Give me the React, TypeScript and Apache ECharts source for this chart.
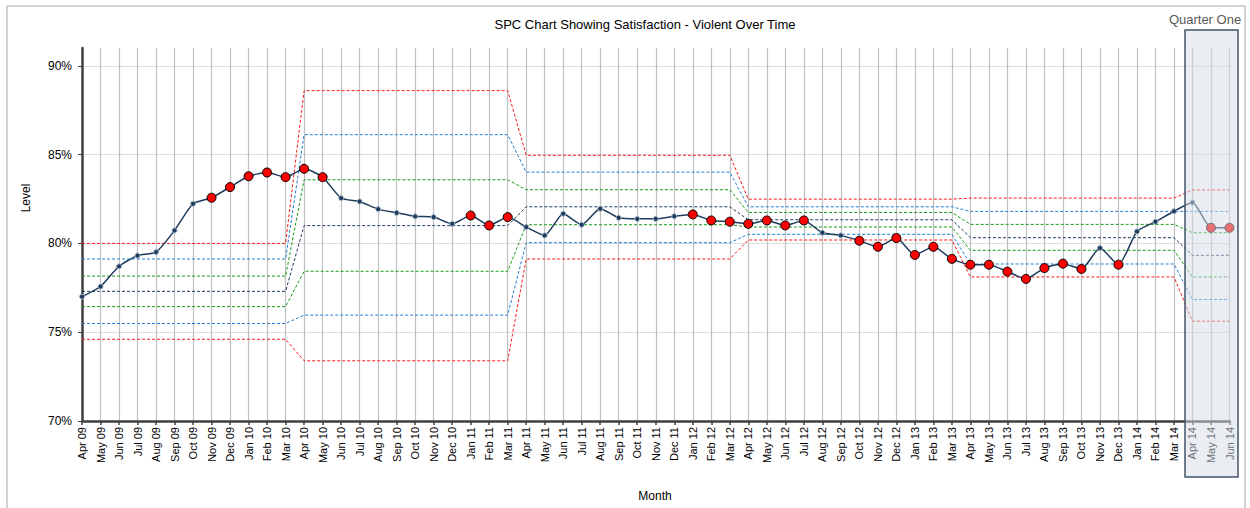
import React, { useEffect, useRef } from "react";
import * as echarts from "echarts";

const months = [
  "Apr 09", "May 09", "Jun 09", "Jul 09", "Aug 09", "Sep 09", "Oct 09", "Nov 09", "Dec 09", "Jan 10", "Feb 10", "Mar 10",
  "Apr 10", "May 10", "Jun 10", "Jul 10", "Aug 10", "Sep 10", "Oct 10", "Nov 10", "Dec 10", "Jan 11", "Feb 11", "Mar 11",
  "Apr 11", "May 11", "Jun 11", "Jul 11", "Aug 11", "Sep 11", "Oct 11", "Nov 11", "Dec 11", "Jan 12", "Feb 12", "Mar 12",
  "Apr 12", "May 12", "Jun 12", "Jul 12", "Aug 12", "Sep 12", "Oct 12", "Nov 12", "Dec 12", "Jan 13", "Feb 13", "Mar 13",
  "Apr 13", "May 13", "Jun 13", "Jul 13", "Aug 13", "Sep 13", "Oct 13", "Nov 13", "Dec 13", "Jan 14", "Feb 14", "Mar 14",
  "Apr 14", "May 14", "Jun 14",
];

const satisfaction = [
  77.0, 77.57, 78.71, 79.31, 79.51, 80.73, 82.23, 82.57, 83.17, 83.78, 83.99, 83.73,
  84.2, 83.73, 82.55, 82.36, 81.93, 81.72, 81.52, 81.48, 81.1, 81.57, 81.01, 81.48,
  80.92, 80.45, 81.67, 81.05, 81.95, 81.44, 81.38, 81.38, 81.53, 81.63, 81.29, 81.22,
  81.1, 81.29, 81.01, 81.29, 80.6, 80.45, 80.15, 79.81, 80.3, 79.35, 79.81, 79.13,
  78.8, 78.8, 78.41, 78.0, 78.61, 78.86, 78.56, 79.74, 78.8, 80.67, 81.22, 81.81,
  82.3, 80.88, 80.88,
];

// indices of months flagged as special cause (red markers)
const specialCause = [
  7, 8, 9, 10, 11, 12, 13, 21, 22, 23, 33, 34, 35, 36, 37, 38, 39,
  42, 43, 44, 45, 46, 47, 48, 49, 50, 51, 52, 53, 54, 56, 61, 62,
];

// control-limit periods (number of months in each) and their levels
const periodLengths = [12, 12, 12, 12, 12, 3];
const ucl = [80.0, 88.6, 84.96, 82.49, 82.55, 83.01];
const upper2 = [79.12, 86.12, 84.01, 82.06, 81.8, 81.8];
const upper1 = [78.16, 83.58, 83.02, 81.74, 81.07, 80.6];
const centre = [77.3, 81.0, 82.06, 81.33, 80.32, 79.33];
const lower1 = [76.44, 78.43, 81.05, 80.92, 79.61, 78.11];
const lower2 = [75.49, 75.96, 80.04, 80.51, 78.84, 76.84];
const lcl = [74.6, 73.39, 79.12, 80.19, 78.11, 75.62];

const yTicks = [70, 75, 80, 85, 90];

function expand(levels: number[]): number[] {
  const out: number[] = [];
  levels.forEach((v, i) => {
    for (let k = 0; k < periodLengths[i]; k++) out.push(v);
  });
  return out;
}

const FONT = "'Liberation Sans', Arial, sans-serif";

export default function App() {
  const ref = useRef<HTMLDivElement>(null);
  useEffect(() => {
    if (!ref.current) return;
    const chart = echarts.init(ref.current, undefined, { renderer: "svg" });

    const limitSeries = (name: string, levels: number[], color: string) => ({
      name,
      type: "line",
      data: expand(levels),
      symbol: "none",
      silent: true,
      z: 1,
      lineStyle: { color, width: 1, type: [3, 2] },
    });

    const mainData = satisfaction.map((v, i) =>
      specialCause.includes(i)
        ? {
            value: v,
            symbolSize: 9,
            itemStyle: { color: "#ff0000", borderColor: "#000000", borderWidth: 1 },
          }
        : {
            value: v,
            symbolSize: 5,
            itemStyle: { color: "#1f3b5c", borderColor: "#9fb4c8", borderWidth: 1 },
          }
    );

    chart.setOption({
      animation: false,
      grid: { left: 82, right: 20.5, top: 48, bottom: 87, containLabel: false },
      xAxis: {
        type: "category",
        data: months,
        boundaryGap: false,
        axisLine: { show: true, lineStyle: { color: "#404040", width: 2.5 } },
        axisTick: { show: true, interval: 0, length: 4, lineStyle: { color: "#404040", width: 1.5 } },
        axisLabel: {
          interval: 0,
          rotate: 90,
          fontSize: 11,
          color: "#000000",
          fontFamily: FONT,
          margin: 6,
        },
        splitLine: { show: true, interval: 0, lineStyle: { color: "#c0c0c0", width: 1.2 } },
      },
      yAxis: {
        type: "value",
        min: 70,
        max: 91,
        interval: 5,
        axisLine: { show: true, lineStyle: { color: "#404040", width: 2.5 } },
        axisTick: { show: true, length: 4, lineStyle: { color: "#404040" } },
        axisLabel: {
          showMaxLabel: false,
          fontSize: 12,
          color: "#000000",
          fontFamily: FONT,
          margin: 10,
          formatter: (v: number) => (yTicks.includes(v) ? v + "%" : ""),
        },
        splitLine: { show: true, showMaxLine: false, lineStyle: { color: "#dcdcdc", width: 1.2 } },
      },
      series: [
        limitSeries("UCL", ucl, "#ff1a1a"),
        limitSeries("+2 sigma", upper2, "#1f7fd6"),
        limitSeries("+1 sigma", upper1, "#159a15"),
        limitSeries("Mean", centre, "#1f3a60"),
        limitSeries("-1 sigma", lower1, "#159a15"),
        limitSeries("-2 sigma", lower2, "#1f7fd6"),
        limitSeries("LCL", lcl, "#ff1a1a"),
        {
          name: "Satisfaction",
          type: "line",
          data: mainData,
          smooth: 0.2,
          symbol: "circle",
          z: 5,
          lineStyle: { color: "#1f3b5c", width: 1.5 },
        },
      ],
      graphic: [
        {
          type: "rect",
          z: -10,
          silent: true,
          shape: { x: 7, y: 6, width: 1238, height: 520 },
          style: { fill: "none", stroke: "#a6a6a6", lineWidth: 1 },
        },
        {
          type: "text",
          x: 645,
          y: 24,
          style: {
            text: "SPC Chart Showing Satisfaction - Violent Over Time",
            fill: "#000000",
            font: `13px ${FONT}`,
            textAlign: "center",
            textVerticalAlign: "middle",
          },
        },
        {
          type: "text",
          x: 1205,
          y: 19,
          style: {
            text: "Quarter One",
            fill: "#595959",
            font: `13px ${FONT}`,
            textAlign: "center",
            textVerticalAlign: "middle",
          },
        },
        {
          type: "text",
          x: 26,
          y: 198,
          rotation: Math.PI / 2,
          style: {
            text: "Level",
            fill: "#000000",
            font: `12px ${FONT}`,
            textAlign: "center",
            textVerticalAlign: "middle",
          },
        },
        {
          type: "text",
          x: 655,
          y: 496,
          style: {
            text: "Month",
            fill: "#000000",
            font: `12px ${FONT}`,
            textAlign: "center",
            textVerticalAlign: "middle",
          },
        },
        {
          type: "rect",
          z: 100,
          silent: true,
          shape: { x: 1185, y: 30, width: 53, height: 447 },
          style: { fill: "rgba(214,221,229,0.5)", stroke: "#42546a", lineWidth: 1.5 },
        },
      ],
    });
    return () => chart.dispose();
  }, []);
  return (
    <div
      ref={ref}
      style={{ position: "fixed", left: 0, top: 0, width: 1250, height: 508, background: "#ffffff" }}
    />
  );
}
